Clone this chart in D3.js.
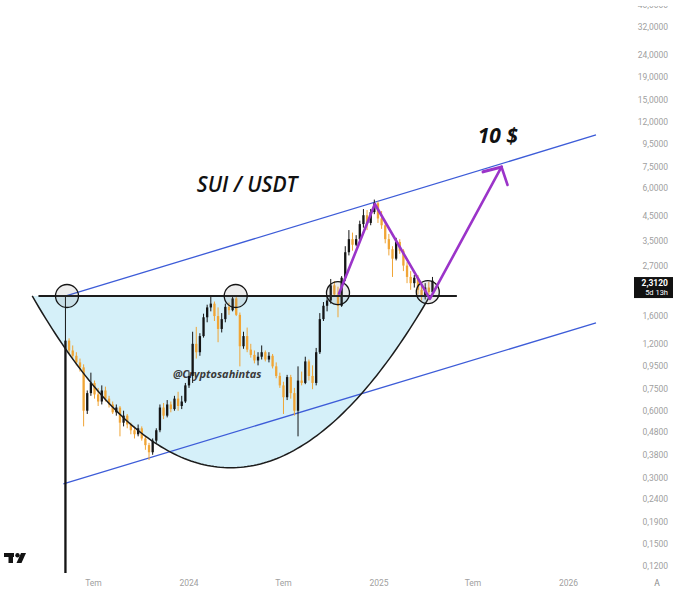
<!DOCTYPE html>
<html><head><meta charset="utf-8">
<script src="https://cdn.jsdelivr.net/npm/d3@7"></script>
<style>body{margin:0;background:#fff}svg{display:block}</style>
</head><body><svg id="c" width="673" height="589"></svg>
<script>
// ---------- data (weekly SUI/USDT candles) ----------
const startDate = "2023-05-08";
const opens  = [0.10,1.24,1.12,1.06,0.99,0.94,0.60,0.72,0.80,0.71,0.66,0.74,0.68,0.64,0.59,0.62,0.53,0.57,0.52,0.49,
                0.47,0.50,0.45,0.42,0.39,0.44,0.49,0.62,0.57,0.64,0.61,0.68,0.63,0.66,0.78,0.86,1.20,1.10,1.30,1.58,
                1.75,1.82,1.60,1.40,1.55,1.76,1.70,1.92,1.62,1.17,1.30,1.13,1.07,1.01,1.05,1.10,1.02,1.06,0.95,0.86,
                0.78,0.69,0.85,0.72,0.60,0.82,0.80,1.00,0.86,0.80,1.10,1.55,1.78,1.88,2.20,2.00,1.78,2.38,3.10,3.55,
                3.35,3.55,4.15,4.55,4.20,4.70,5.15,4.40,4.10,3.55,3.20,2.90,3.45,3.15,2.70,2.40,2.25,2.38,2.10,1.95,
                2.15,2.05];
const highs  = [1.97,1.27,1.18,1.10,1.03,0.97,0.74,0.89,0.82,0.76,0.78,0.77,0.70,0.66,0.64,0.63,0.60,0.58,0.53,0.51,
                0.52,0.51,0.46,0.43,0.45,0.50,0.64,0.65,0.67,0.66,0.70,0.73,0.70,0.80,0.90,1.36,1.43,1.34,1.64,1.80,
                1.96,1.86,1.75,1.65,1.82,1.84,1.95,1.98,1.66,1.36,1.42,1.20,1.12,1.10,1.18,1.12,1.10,1.08,0.99,0.89,
                0.81,0.87,0.87,0.76,0.95,0.90,1.05,1.02,0.96,1.15,1.65,1.85,1.95,2.35,2.30,2.17,2.42,3.30,3.90,3.80,
                3.70,4.30,4.85,4.80,4.85,5.35,5.25,4.75,4.20,3.75,3.30,3.60,3.55,3.20,2.80,2.55,2.45,2.45,2.20,2.25,
                2.28,2.40];
const lows   = [0.10,1.08,1.02,0.96,0.90,0.51,0.58,0.70,0.68,0.63,0.64,0.66,0.62,0.58,0.57,0.46,0.51,0.50,0.47,0.45,
                0.46,0.44,0.40,0.36,0.38,0.43,0.48,0.55,0.56,0.59,0.60,0.60,0.61,0.65,0.76,0.80,1.03,1.06,1.28,1.50,
                1.68,1.52,1.22,1.35,1.50,1.62,1.68,1.60,0.95,1.14,1.10,1.04,0.98,0.96,1.02,1.00,0.99,0.93,0.84,0.76,
                0.58,0.67,0.68,0.57,0.46,0.78,0.79,0.82,0.75,0.78,1.08,1.52,1.68,1.82,1.95,1.58,1.76,2.30,3.00,3.15,
                3.30,3.50,4.00,3.90,4.10,4.60,4.20,3.95,3.40,3.00,2.40,2.85,3.05,2.55,2.25,2.10,2.15,2.00,1.88,1.90,
                1.92,2.00];
const closes = [1.24,1.12,1.06,0.99,0.94,0.60,0.72,0.80,0.71,0.66,0.74,0.68,0.64,0.59,0.62,0.53,0.57,0.52,0.49,0.47,
                0.50,0.45,0.42,0.39,0.44,0.49,0.62,0.57,0.64,0.61,0.68,0.63,0.66,0.78,0.86,1.20,1.10,1.30,1.58,1.75,
                1.82,1.60,1.40,1.55,1.76,1.70,1.92,1.62,1.17,1.30,1.13,1.07,1.01,1.05,1.10,1.02,1.06,0.95,0.86,0.78,
                0.69,0.85,0.72,0.60,0.82,0.80,1.00,0.86,0.80,1.10,1.55,1.78,1.88,2.20,2.00,1.78,2.38,3.10,3.55,3.35,
                3.55,4.15,4.55,4.20,4.70,5.15,4.40,4.10,3.55,3.20,2.90,3.45,3.15,2.70,2.40,2.25,2.38,2.10,1.95,2.15,
                2.05,2.31];
const priceTicks = [40,32,24,19,15,12,9.5,7.5,6,4.5,3.5,2.7,1.6,1.2,0.95,0.75,0.6,0.48,0.38,0.3,0.24,0.19,0.15,0.12];
const timeTicks = ["2023-07-01","2024-01-01","2024-07-01","2025-01-01","2025-07-01","2026-01-01"];
const timeTickLabels = ["Tem","2024","Tem","2025","Tem","2026"];
const lastPrice = 2.312;
const lastCountdown = "5d 13h";
// drawing annotations (date, price)
const necklinePts = [["2023-03-17",1.97],["2025-05-31",1.97]];
const cupPts = [["2023-03-05",1.97],["2024-03-21",0.332],["2025-04-09",1.97]];
const channelUpper = [["2023-05-09",1.97],["2026-02-23",10.45]];
const channelLower = [["2023-05-04",0.281],["2026-02-23",1.49]];
const circlePts = [["2023-05-11",1.97],["2024-03-31",1.97],["2024-10-14",2.03],["2025-04-05",2.05]];
const purplePts = [["2024-10-16",2.02],["2024-12-24",5.11],["2025-04-09",1.91],["2025-08-25",7.5]];
const titleText = ["2024-01-16",5.79,"SUI / USDT"];
const targetText = ["2025-07-10",9.62,"10 $"];
const watermark = ["2023-12-01",0.843,"@Cryptosahintas"];

// ---------- scales ----------
const parse = d3.utcParse("%Y-%m-%d");
const x = d3.scaleUtc().domain([parse("2024-01-01"), parse("2025-01-01")]).range([189, 379]);
const y = d3.scaleLog().domain([32, 0.12]).range([27, 566]);
const P = p => [x(parse(p[0])), y(p[1])];

const svg = d3.select("#c");
svg.append("rect").attr("width",673).attr("height",589).attr("fill","#fff");
const defs = svg.append("defs");
defs.append("clipPath").attr("id","pane").append("rect").attr("x",0).attr("y",0).attr("width",632).attr("height",573);
defs.append("clipPath").attr("id","axisclip").append("rect").attr("x",630).attr("y",6).attr("width",43).attr("height",583);
const pane = svg.append("g").attr("clip-path","url(#pane)");

// cup curve (parabola through the three points in screen space)
const [cl, cb, cr] = cupPts.map(P);
const cupLine = [];
for (let t = 0; t <= 60; t++) {
  const xx = cl[0] + (cb[0]-cl[0]) * t/60;
  const u = (xx-cb[0])/(cb[0]-cl[0]);
  cupLine.push([xx, cl[1] + (cb[1]-cl[1])*(1-u*u)]);
}
for (let t = 1; t <= 60; t++) {
  const xx = cb[0] + (cr[0]-cb[0]) * t/60;
  const u = (xx-cb[0])/(cr[0]-cb[0]);
  cupLine.push([xx, cr[1] + (cb[1]-cr[1])*(1-u*u)]);
}
const line = d3.line();
pane.append("path").attr("d", line(cupLine) + "Z").attr("fill","#d5f0f9").attr("stroke","none");

// channel
[channelUpper, channelLower].forEach(c => {
  pane.append("path").attr("d", line(c.map(P))).attr("stroke","#3d5cd8").attr("stroke-width",1.3).attr("fill","none");
});

// watermark
const wp = P(watermark);
pane.append("text").attr("x",wp[0]).attr("y",wp[1]).text(watermark[2])
  .attr("font-family","Open Sans, sans-serif").attr("font-style","italic").attr("font-weight",700)
  .attr("font-size",11).attr("fill","#3a3a3a");

// candles
const dates = opens.map((_, i) => d3.utcDay.offset(parse(startDate), 7*i));
const candles = opens.map((o, i) => ({d: dates[i], o, h: highs[i], l: lows[i], c: closes[i]}));
const col = d => d.c >= d.o ? "#151515" : "#f0a536";
const cg = pane.append("g");
cg.selectAll("line").data(candles).join("line")
  .attr("x1", d => x(d.d)).attr("x2", d => x(d.d))
  .attr("y1", d => y(d.h)).attr("y2", d => y(d.l))
  .attr("stroke", col).attr("stroke-width", 1);
cg.selectAll("rect").data(candles).join("rect")
  .attr("x", d => x(d.d) - 1.15).attr("width", 2.3)
  .attr("y", d => y(Math.max(d.o, d.c)))
  .attr("height", d => Math.max(1, Math.abs(y(d.o) - y(d.c))))
  .attr("fill", col);

// neckline & cup stroke
pane.append("path").attr("d", line(necklinePts.map(P))).attr("stroke","#1c1c1c").attr("stroke-width",1.8);
pane.append("path").attr("d", line(cupLine)).attr("stroke","#1c1c1c").attr("stroke-width",1.5).attr("fill","none");

// circles
pane.selectAll("circle.mk").data(circlePts).join("circle")
  .attr("cx", d => P(d)[0]).attr("cy", d => P(d)[1]).attr("r", 11.5)
  .attr("fill","rgba(110,110,110,0.12)").attr("stroke","#151515").attr("stroke-width",1.3);

// purple path with arrow
const pp = purplePts.map(P);
pane.append("path").attr("d", line(pp)).attr("stroke","#9b34c9").attr("stroke-width",2.6)
  .attr("fill","none").attr("stroke-linejoin","round").attr("stroke-linecap","round");
const tip = pp[pp.length-1], prev = pp[pp.length-2];
const ang = Math.atan2(prev[1]-tip[1], prev[0]-tip[0]);
const L = 19, spread = 47 * Math.PI/180;
[ang - spread, ang + spread].forEach((a, k) => {
  pane.append("line").attr("x1", tip[0]).attr("y1", tip[1])
    .attr("x2", tip[0] + L*Math.cos(a)).attr("y2", tip[1] + L*Math.sin(a))
    .attr("stroke","#9b34c9").attr("stroke-width", k === 1 ? 3.2 : 2.6).attr("stroke-linecap","round");
});

// texts
const tp = P(titleText);
pane.append("text").attr("x",tp[0]).attr("y",tp[1]).text(titleText[2])
  .attr("font-family","Open Sans, sans-serif").attr("font-style","italic").attr("font-weight",600)
  .attr("font-size",21).attr("fill","#111");
const gp = P(targetText);
pane.append("text").attr("x",gp[0]).attr("y",gp[1]).text(targetText[2])
  .attr("font-family","Open Sans, sans-serif").attr("font-style","italic").attr("font-weight",700)
  .attr("font-size",21).attr("fill","#111");

// right price axis
const fmt = v => d3.format(".4f")(v).replace(".", ",");
const ax = svg.append("g").attr("clip-path","url(#axisclip)");
ax.selectAll("text").data(priceTicks).join("text")
  .attr("x", 668).attr("y", d => y(d)).attr("dy","0.35em").attr("text-anchor","end")
  .attr("font-family","Roboto, sans-serif").attr("font-size",8.5).attr("fill","#a0a0a0")
  .text(fmt);
const ly = y(lastPrice);
svg.append("rect").attr("x",634).attr("y",ly-3.5).attr("width",39).attr("height",21).attr("fill","#111");
svg.append("text").attr("x",668).attr("y",ly+5).attr("text-anchor","end")
  .attr("font-family","Roboto, sans-serif").attr("font-weight",700).attr("font-size",8.5).attr("fill","#fff").text(fmt(lastPrice));
svg.append("text").attr("x",668).attr("y",ly+14.5).attr("text-anchor","end")
  .attr("font-family","Roboto, sans-serif").attr("font-size",7.5).attr("fill","#fff").text(lastCountdown);

// bottom time axis
svg.append("g").selectAll("text").data(timeTicks).join("text")
  .attr("x", d => x(parse(d))).attr("y", 583).attr("dy","0.35em").attr("text-anchor","middle")
  .attr("font-family","Roboto, sans-serif").attr("font-size",8.5).attr("fill","#a0a0a0")
  .text((d, i) => timeTickLabels[i]);
svg.append("text").attr("x",657).attr("y",583).attr("dy","0.35em").attr("text-anchor","middle")
  .attr("font-family","Roboto, sans-serif").attr("font-size",8.5).attr("fill","#888").text("A");

// TradingView logo
const lg = svg.append("g").attr("fill","#131313");
lg.append("rect").attr("x",4).attr("y",553).attr("width",10).attr("height",4);
lg.append("rect").attr("x",8.5).attr("y",553).attr("width",4.5).attr("height",10);
lg.append("circle").attr("cx",17.5).attr("cy",555.2).attr("r",2.2);
lg.append("path").attr("d","M21,553 L26,553 L21.5,563 L16.5,563 Z");
</script></body></html>
